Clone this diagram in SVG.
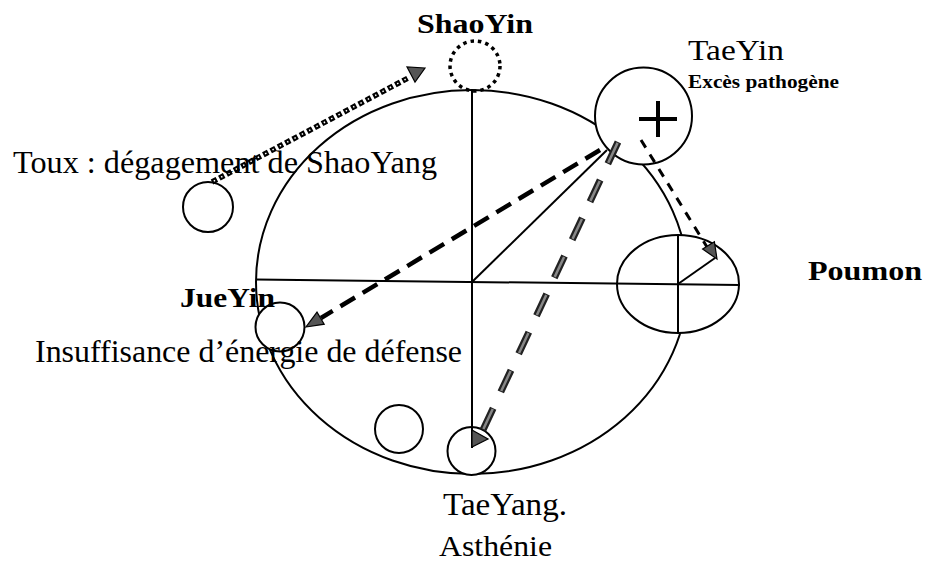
<svg xmlns="http://www.w3.org/2000/svg" width="936" height="565" viewBox="0 0 936 565">
<style>
.ln{stroke:#000;stroke-width:2;fill:none}
.cw{stroke:#000;stroke-width:2;fill:#fff}
.t{font-family:"Liberation Serif","Times New Roman",serif;fill:#000}
.b{font-weight:bold}
.head{fill:#555;stroke:#000;stroke-width:1.2;stroke-linejoin:miter}
</style>
<rect width="936" height="565" fill="#fff"/>
<g id="main-ellipse">
<ellipse class="ln" cx="472" cy="282" rx="216" ry="192"/>
</g>
<g id="circles">
<g id="toux-circle"><circle class="cw" cx="208" cy="207" r="25"/></g>
<g id="jueyin-circle"><circle class="cw" cx="280" cy="327" r="24.5"/></g>
<g id="bottom-circle"><circle class="cw" cx="399" cy="429" r="24"/></g>
<g id="taeyang-circle"><circle class="cw" cx="471.5" cy="451" r="24"/></g>
<g id="taeyin-circle">
<circle class="cw" cx="643.5" cy="116" r="48.5"/>
<path d="M639 119H677M658 101V137" stroke="#000" stroke-width="4" fill="none"/>
</g>
<g id="shaoyin-circle"><circle cx="475" cy="66" r="25" fill="none" stroke="#000" stroke-width="3.5" stroke-dasharray="3.5 4"/></g>
<g id="poumon-ellipse"><ellipse class="cw" cx="678" cy="284" rx="61" ry="49"/></g>
</g>
<g id="axes">
<line class="ln" x1="472" y1="90" x2="472" y2="448"/>
<line class="ln" x1="256" y1="279.5" x2="740" y2="285"/>
<line class="ln" x1="472" y1="282" x2="607" y2="150"/>
<line class="ln" x1="678" y1="235" x2="678" y2="333"/>
<line class="ln" x1="678" y1="284" x2="715" y2="258"/>
</g>
<g id="connectors">
<g id="arrow-shaoyang">
<line x1="212" y1="182" x2="410" y2="77" stroke="#000" stroke-width="5.5" stroke-dasharray="5.5 2.8"/>
<line x1="212" y1="182" x2="410" y2="77" stroke="#fff" stroke-width="1.5" stroke-dasharray="1.5 6.8" stroke-dashoffset="-2"/>
<polygon class="head" points="425,68 407,67 415,82"/>
</g>
<g id="arrow-jueyin">
<line x1="600" y1="150" x2="321" y2="318" stroke="#000" stroke-width="4.5" stroke-dasharray="17 9"/>
<polygon class="head" points="306,327 324.2,324.2 317,312.2"/>
</g>
<g id="arrow-taeyang">
<line x1="618" y1="142" x2="482" y2="432" stroke="#222" stroke-width="7" stroke-dasharray="24 18"/>
<line x1="618" y1="142" x2="482" y2="432" stroke="#888" stroke-width="2.5" stroke-dasharray="22 20" stroke-dashoffset="-1"/>
<polygon class="head" points="472,447 472,430 488,439"/>
</g>
<g id="arrow-poumon">
<line x1="641" y1="140" x2="707" y2="247" stroke="#000" stroke-width="3" stroke-dasharray="9 8"/>
<polygon class="head" points="717,259 714.4,241.7 702.6,249.1"/>
</g>
</g>
<g id="labels">
<text class="t b" x="417" y="33" font-size="28" textLength="116" lengthAdjust="spacingAndGlyphs">ShaoYin</text>
<text class="t" x="688" y="60" font-size="30" textLength="96" lengthAdjust="spacingAndGlyphs">TaeYin</text>
<text class="t b" x="688" y="88" font-size="19" textLength="151" lengthAdjust="spacingAndGlyphs">Excès pathogène</text>
<text class="t" x="13" y="173" font-size="31" textLength="424" lengthAdjust="spacingAndGlyphs">Toux : dégagement de ShaoYang</text>
<text class="t b" x="808" y="280" font-size="27" textLength="114" lengthAdjust="spacingAndGlyphs">Poumon</text>
<text class="t b" x="180" y="307" font-size="27" textLength="95" lengthAdjust="spacingAndGlyphs">JueYin</text>
<text class="t" x="35" y="362" font-size="32" textLength="427" lengthAdjust="spacingAndGlyphs">Insuffisance d’énergie de défense</text>
<text class="t" x="443" y="515" font-size="31" textLength="124" lengthAdjust="spacingAndGlyphs">TaeYang.</text>
<text class="t" x="439" y="556" font-size="30" textLength="113" lengthAdjust="spacingAndGlyphs">Asthénie</text>
</g>
</svg>
